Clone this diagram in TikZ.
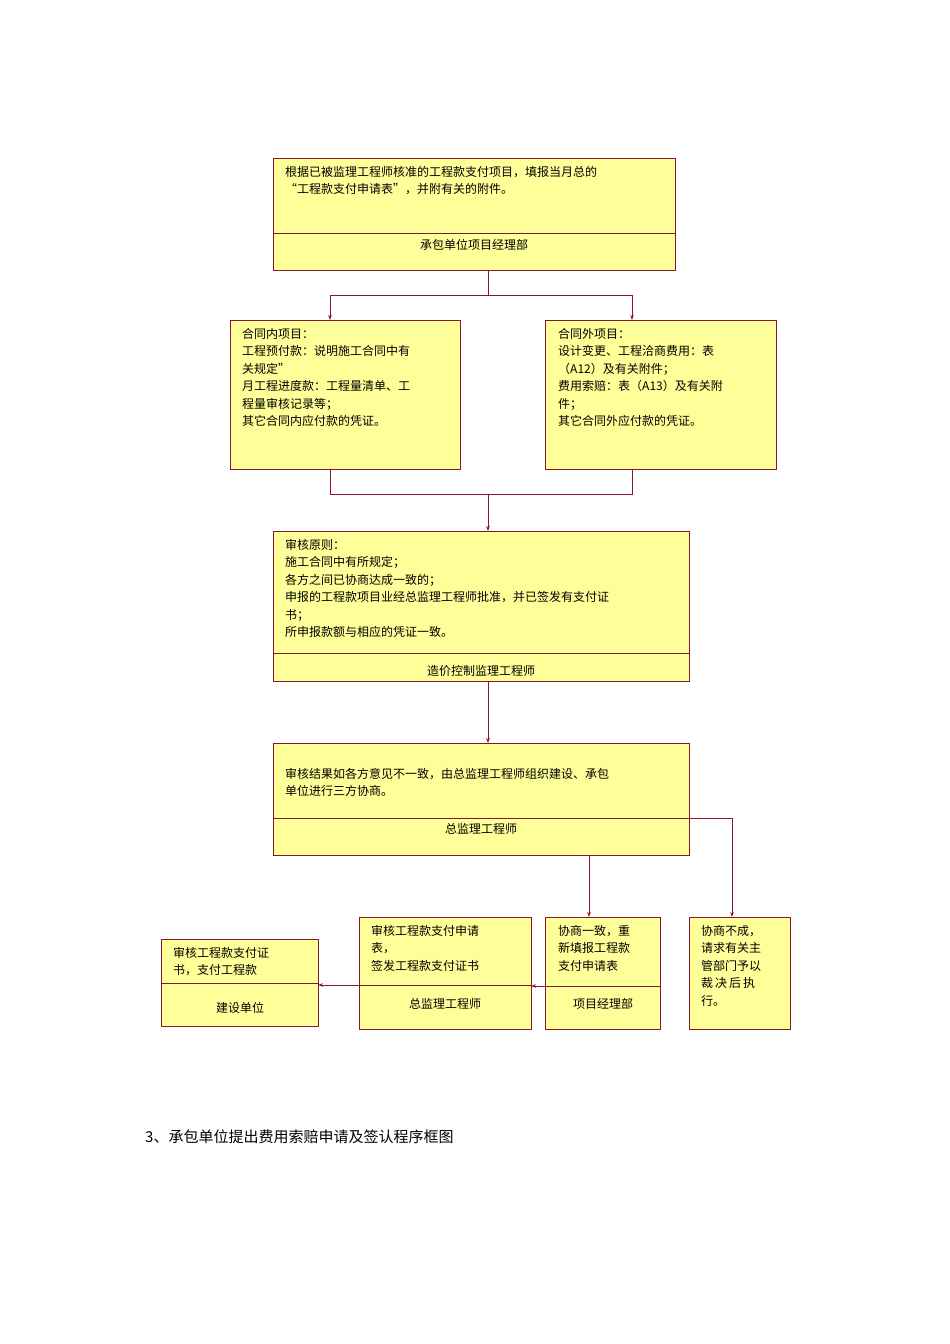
\documentclass[tikz,border=0pt]{standalone}
\usepackage{fontspec}
\setmainfont{Noto Sans CJK SC}
\usetikzlibrary{arrows.meta}
\definecolor{bx}{RGB}{255,255,153}
\definecolor{ln}{RGB}{140,20,40}
\begin{document}
\begin{tikzpicture}[x=1pt,y=-1pt,
 boxn/.style={draw=ln,fill=bx,line width=0.8pt,anchor=north west,inner sep=0pt},
 txt/.style={anchor=north west,align=left,font=\fontsize{12}{17.5}\selectfont,inner sep=0pt},
 lab/.style={font=\fontsize{12}{14}\selectfont,inner sep=0pt},
 cn/.style={draw=ln,line width=0.8pt},
 ar/.style={cn,-{Stealth[length=5pt,width=3.5pt]}}]
\fill[white] (0,0) rectangle (950,1344);
\node[boxn,minimum width=402,minimum height=112] (b1) at (273,158) {};
\draw[cn] (273,233) -- (675,233);
\node[txt] (t1) at (285,166) {根据已被监理工程师核准的工程款支付项目，填报当月总的\\“工程款支付申请表”，并附有关的附件。};
\node[lab] (l1) at (474,245) {承包单位项目经理部};
\node[boxn,minimum width=230,minimum height=149] (b2) at (230,320) {};
\node[txt] (t2) at (242,328) {合同内项目：\\工程预付款：说明施工合同中有\\关规定”\\月工程进度款：工程量清单、工\\程量审核记录等；\\其它合同内应付款的凭证。};
\node[boxn,minimum width=231,minimum height=149] (b3) at (545,320) {};
\node[txt] (t3) at (558,328) {合同外项目：\\设计变更、工程洽商费用：表\\（A12）及有关附件；\\费用索赔：表（A13）及有关附\\件；\\其它合同外应付款的凭证。};
\node[boxn,minimum width=416,minimum height=150] (b4) at (273,531) {};
\draw[cn] (273,653) -- (689,653);
\node[txt] (t4) at (285,539) {审核原则：\\施工合同中有所规定；\\各方之间已协商达成一致的；\\申报的工程款项目业经总监理工程师批准，并已签发有支付证\\书；\\所申报款额与相应的凭证一致。};
\node[lab] (l4) at (481,671) {造价控制监理工程师};
\node[boxn,minimum width=416,minimum height=112] (b5) at (273,743) {};
\node[txt] (t5) at (285,768) {审核结果如各方意见不一致，由总监理工程师组织建设、承包\\单位进行三方协商。};
\node[lab] (l5) at (481,829) {总监理工程师};
\coordinate (c5) at (732,818);
\draw[cn] (273,818) -- (c5);
\node[boxn,minimum width=115,minimum height=112] (b6) at (545,917) {};
\draw[cn] (545,986) -- (660,986);
\node[txt] (t6) at (558,925) {协商一致，重\\新填报工程款\\支付申请表};
\node[lab] (l6) at (603,1004) {项目经理部};
\node[boxn,minimum width=101,minimum height=112] (b7) at (689,917) {};
\node[txt] (t7) at (701,925) {协商不成，\\请求有关主\\管部门予以\\裁\,决\,后\,执\\行。};
\node[boxn,minimum width=172,minimum height=112] (b8) at (359,917) {};
\draw[cn] (359,985) -- (531,985);
\node[txt] (t8) at (371,925) {审核工程款支付申请\\表，\\签发工程款支付证书};
\node[lab] (l8) at (445,1004) {总监理工程师};
\node[boxn,minimum width=157,minimum height=87] (b9) at (161,939) {};
\draw[cn] (161,983) -- (318,983);
\node[txt] (t9) at (173,947) {审核工程款支付证\\书，支付工程款};
\node[lab] (l9) at (240,1008) {建设单位};
\node[anchor=west,inner sep=0pt,font=\fontsize{15}{18}\selectfont] (cap) at (145,1137) {3、承包单位提出费用索赔申请及签认程序框图};
% connectors
\coordinate (s1) at (488,295);
\draw[cn] (b1.south -| s1) -- (s1);
\draw[ar] (s1) -| (330,320);
\draw[ar] (s1) -| (632,320);
\coordinate (m1) at (488,494);
\draw[cn] (330,469) |- (m1);
\draw[cn] (632,469) |- (m1);
\draw[ar] (m1) -- (b4.north -| m1);
\draw[ar] (b4.south -| m1) -- (b5.north -| m1);
\draw[ar] (589,855) -- (589,917);
\draw[ar] (c5) -- (732,917);
\draw[ar] (576,986) -- (531,986);
\draw[ar] (b8.west |- 0,985) -- (318,985);
\end{tikzpicture}
\end{document}
